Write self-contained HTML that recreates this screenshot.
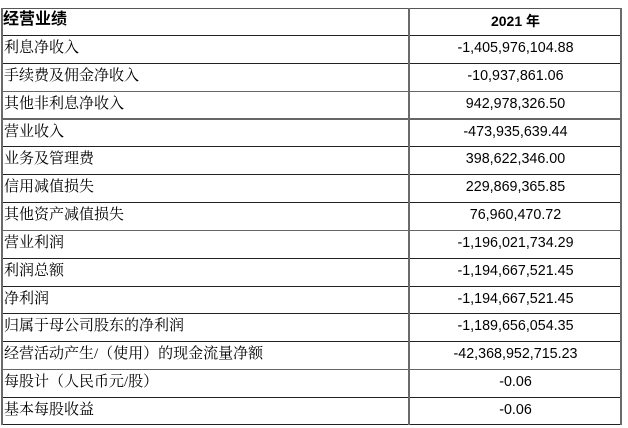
<!DOCTYPE html>
<html><head><meta charset="utf-8">
<style>
html,body{margin:0;padding:0;background:#fff;}
body{width:628px;height:428px;position:relative;overflow:hidden;}
.h{position:absolute;left:2px;width:620px;height:1px;background:#222;}
.g{background:#666;}
.v{position:absolute;top:8px;width:2px;height:417px;background:#6a6a6a;}
.l{position:absolute;left:4px;font-family:"Liberation Serif","Noto Serif CJK SC",serif;font-size:15px;color:#000;line-height:18px;white-space:nowrap;}
.r{position:absolute;left:410px;width:211px;text-align:center;font-family:"Liberation Sans","Noto Sans CJK SC",sans-serif;font-size:14.3px;color:#000;line-height:18px;white-space:nowrap;}
</style></head><body>
<div class="h" style="top:8px;background:#555"></div>
<div class="h" style="top:35px"></div>
<div class="h" style="top:63px"></div>
<div class="h g" style="top:91px"></div>
<div class="h g" style="top:118px;height:2px"></div>
<div class="h" style="top:146px"></div>
<div class="h" style="top:174px"></div>
<div class="h" style="top:202px"></div>
<div class="h g" style="top:230px"></div>
<div class="h" style="top:258px"></div>
<div class="h" style="top:286px"></div>
<div class="h" style="top:313px"></div>
<div class="h" style="top:341px"></div>
<div class="h g" style="top:369px"></div>
<div class="h" style="top:397px"></div>
<div class="h" style="top:424px"></div>
<div class="v" style="left:1px"></div>
<div class="v" style="left:408px"></div>
<div class="v" style="left:620px"></div>

<div class="l" style="top:11px;left:3px;font-family:'Liberation Sans','Noto Sans CJK SC',sans-serif;font-weight:bold;font-size:16px;">经营业绩</div>
<div class="r" style="top:12px;font-weight:bold;font-size:14px;font-family:'Liberation Sans','Noto Sans CJK SC',sans-serif;">2021 年</div>

<div class="l" style="top:39px">利息净收入</div><div class="r" style="top:39px">-1,405,976,104.88</div>
<div class="l" style="top:67px">手续费及佣金净收入</div><div class="r" style="top:67px">-10,937,861.06</div>
<div class="l" style="top:95px">其他非利息净收入</div><div class="r" style="top:95px">942,978,326.50</div>
<div class="l" style="top:123px">营业收入</div><div class="r" style="top:123px">-473,935,639.44</div>
<div class="l" style="top:150px">业务及管理费</div><div class="r" style="top:150px">398,622,346.00</div>
<div class="l" style="top:178px">信用减值损失</div><div class="r" style="top:178px">229,869,365.85</div>
<div class="l" style="top:206px">其他资产减值损失</div><div class="r" style="top:206px">76,960,470.72</div>
<div class="l" style="top:234px">营业利润</div><div class="r" style="top:234px">-1,196,021,734.29</div>
<div class="l" style="top:262px">利润总额</div><div class="r" style="top:262px">-1,194,667,521.45</div>
<div class="l" style="top:290px">净利润</div><div class="r" style="top:290px">-1,194,667,521.45</div>
<div class="l" style="top:317px">归属于母公司股东的净利润</div><div class="r" style="top:317px">-1,189,656,054.35</div>
<div class="l" style="top:345px">经营活动产生/（使用）的现金流量净额</div><div class="r" style="top:345px">-42,368,952,715.23</div>
<div class="l" style="top:373px">每股计（人民币元/股）</div><div class="r" style="top:373px">-0.06</div>
<div class="l" style="top:401px">基本每股收益</div><div class="r" style="top:401px">-0.06</div>
</body></html>
